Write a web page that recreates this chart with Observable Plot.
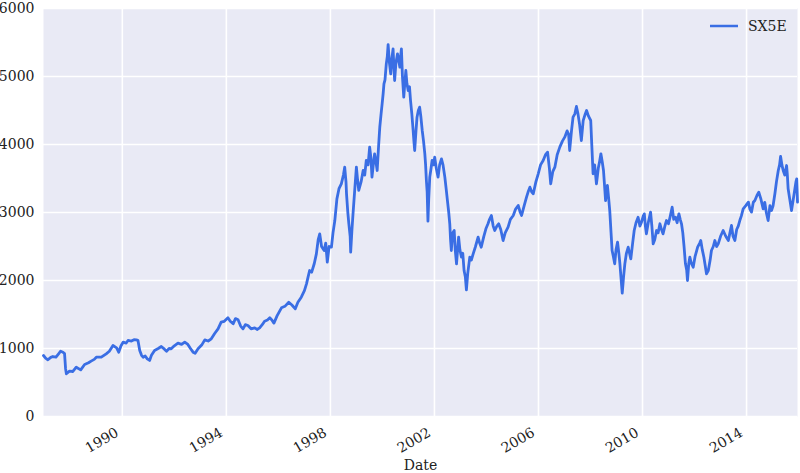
<!DOCTYPE html>
<html><head><meta charset="utf-8">
<script src="https://cdn.jsdelivr.net/npm/d3@7"></script>
<script src="https://cdn.jsdelivr.net/npm/@observablehq/plot@0.6"></script>
<style>
body{margin:0;background:#fff;}
#chart{position:relative;width:800px;height:473px;}
</style></head><body><div id="chart"></div>
<script>
const seriesName = "SX5E";
const xLabel = "Date";
const years = [
1986.97,1987.05,1987.14,1987.25,1987.33,1987.45,1987.55,1987.63,1987.72,1987.78,1987.82,1987.85,1987.97,
1988.10,1988.23,1988.40,1988.55,1988.70,1988.80,1988.92,1989.00,1989.19,1989.38,1989.50,1989.64,1989.78,1989.86,1989.95,
1990.03,1990.15,1990.22,1990.35,1990.45,1990.54,1990.60,1990.67,1990.74,1990.80,1990.88,1990.96,
1991.05,1991.12,1991.24,1991.38,1991.50,1991.62,1991.70,1991.80,1991.88,
1992.00,1992.14,1992.28,1992.40,1992.52,1992.62,1992.72,1992.80,1992.91,
1993.05,1993.17,1993.30,1993.42,1993.55,1993.68,1993.80,1993.92,
1994.06,1994.15,1994.26,1994.35,1994.45,1994.55,1994.64,1994.73,1994.83,1994.95,
1995.09,1995.18,1995.28,1995.38,1995.47,1995.58,1995.67,1995.75,1995.83,1995.95,
1996.05,1996.12,1996.25,1996.40,1996.52,1996.65,1996.75,1996.88,
1997.00,1997.08,1997.14,1997.20,1997.28,1997.38,1997.46,1997.53,1997.59,1997.66,1997.76,1997.82,1997.88,1997.95,
1998.04,1998.10,1998.17,1998.25,1998.33,1998.42,1998.50,1998.55,1998.60,1998.62,1998.67,1998.71,1998.76,1998.78,1998.83,1998.87,1998.93,
1999.00,1999.04,1999.09,1999.18,1999.26,1999.32,1999.38,1999.45,1999.51,1999.56,1999.60,1999.65,1999.70,1999.75,1999.80,1999.85,1999.90,1999.95,1999.99,
2000.03,2000.06,2000.10,2000.15,2000.19,2000.22,2000.27,2000.32,2000.36,2000.41,2000.44,2000.47,2000.52,2000.58,2000.62,2000.67,2000.70,2000.73,2000.77,2000.82,2000.86,2000.90,2000.94,2000.99,
2001.04,2001.08,2001.13,2001.18,2001.21,2001.24,2001.29,2001.33,2001.38,2001.43,2001.48,2001.53,2001.58,2001.63,2001.66,2001.69,2001.72,2001.75,2001.78,2001.82,2001.87,2001.91,2001.96,
2002.01,2002.07,2002.14,2002.20,2002.27,2002.33,2002.40,2002.45,2002.50,2002.55,2002.59,2002.62,2002.65,2002.70,2002.76,2002.80,2002.85,2002.89,2002.93,2002.98,
2003.04,2003.09,2003.14,2003.19,2003.23,2003.28,2003.36,2003.42,2003.49,2003.58,2003.68,2003.74,2003.80,2003.90,2003.98,
2004.06,2004.12,2004.19,2004.26,2004.32,2004.40,2004.47,2004.55,2004.64,2004.72,2004.83,2004.92,
2005.03,2005.12,2005.22,2005.30,2005.35,2005.45,2005.54,2005.60,2005.67,2005.74,2005.80,2005.90,2005.99,
2006.08,2006.18,2006.27,2006.35,2006.42,2006.47,2006.55,2006.63,2006.72,2006.82,2006.92,
2007.01,2007.10,2007.16,2007.20,2007.27,2007.33,2007.40,2007.46,2007.52,2007.58,2007.65,2007.72,2007.80,2007.85,2007.92,
2008.01,2008.05,2008.10,2008.16,2008.23,2008.30,2008.35,2008.40,2008.45,2008.50,2008.54,2008.58,2008.65,2008.70,2008.74,2008.79,2008.83,2008.88,2008.93,2008.98,
2009.04,2009.09,2009.13,2009.18,2009.22,2009.27,2009.32,2009.38,2009.45,2009.50,2009.55,2009.62,2009.68,2009.75,2009.83,2009.90,2009.96,
2010.03,2010.07,2010.11,2010.15,2010.22,2010.31,2010.36,2010.41,2010.47,2010.54,2010.60,2010.67,2010.73,2010.79,2010.86,2010.92,
2011.00,2011.07,2011.14,2011.20,2011.27,2011.33,2011.40,2011.45,2011.50,2011.55,2011.60,2011.65,2011.70,2011.73,2011.78,2011.82,2011.88,2011.95,
2012.02,2012.12,2012.20,2012.24,2012.30,2012.36,2012.40,2012.46,2012.53,2012.60,2012.65,2012.72,2012.78,2012.85,2012.91,
2013.00,2013.10,2013.20,2013.30,2013.36,2013.42,2013.48,2013.55,2013.62,2013.68,2013.74,2013.80,2013.87,2013.97,
2014.07,2014.13,2014.19,2014.26,2014.32,2014.40,2014.47,2014.55,2014.64,2014.70,2014.76,2014.83,2014.90,2014.96,
2015.02,2015.09,2015.15,2015.22,2015.27,2015.31,2015.36,2015.41,2015.47,2015.54,2015.57,2015.60,2015.66,2015.73,2015.80,2015.86,2015.90,2015.93,2015.96
];
const values = [
897,860,834,870,882,872,920,960,945,925,700,628,667,
662,725,686,765,790,814,840,872,872,922,960,1044,1010,946,1040,
1093,1080,1118,1110,1130,1127,1120,971,900,872,890,848,
824,900,971,1000,1029,990,960,1000,995,
1040,1078,1060,1093,1060,1000,946,930,995,
1050,1127,1110,1142,1220,1289,1387,1400,
1451,1400,1363,1440,1422,1330,1289,1350,1338,1290,
1304,1280,1304,1350,1402,1420,1451,1420,1373,1480,
1550,1598,1620,1681,1640,1583,1680,1755,
1850,1951,2050,2147,2122,2250,2392,2600,2686,2500,2441,2550,2269,2500,
2490,2700,2882,3200,3350,3422,3550,3667,3450,3275,3000,2834,2650,2416,2750,2980,3300,
3667,3500,3324,3450,3618,3550,3765,3700,3961,3800,3520,3700,3863,3750,3618,3950,4255,4450,4598,
4750,4892,4950,5186,5300,5470,5200,5039,5250,5407,5150,4941,5200,5333,5250,5137,5300,5407,5000,4696,4900,5088,4900,4794,
4850,4647,4450,4206,4050,3912,4200,4402,4500,4549,4400,4206,4050,3863,3700,3471,3300,2873,3200,3520,3650,3765,3700,
3814,3650,3520,3700,3789,3700,3520,3350,3176,3000,2834,2600,2441,2700,2735,2450,2245,2450,2637,2450,
2343,2400,2147,2050,1863,2100,2343,2300,2392,2500,2637,2550,2490,2650,2760,
2834,2900,2956,2800,2735,2800,2834,2750,2588,2700,2784,2900,
2956,3050,3103,3000,2956,3100,3225,3300,3373,3300,3275,3450,3569,
3700,3765,3850,3887,3650,3422,3600,3667,3850,3961,4050,
4108,4200,4150,3912,4200,4402,4450,4559,4450,4300,4059,4350,4450,4500,4420,
4353,4000,3569,3700,3422,3650,3750,3863,3750,3618,3400,3176,3397,3200,3029,2700,2441,2350,2245,2450,
2564,2400,2245,2000,1814,2050,2245,2400,2490,2400,2319,2550,2735,2850,2931,2800,2858,
2950,2980,2800,2686,2850,3005,2800,2539,2600,2735,2700,2834,2750,2686,2800,2882,
2834,2950,3078,2900,2931,2850,2980,2900,2834,2700,2490,2250,2150,2000,2250,2343,2250,2196,
2350,2490,2550,2588,2450,2343,2245,2098,2147,2300,2441,2500,2588,2500,2539,
2650,2735,2650,2588,2700,2809,2650,2588,2750,2800,2882,2950,3054,3100,
3152,3050,3005,3150,3176,3250,3299,3200,3054,3150,3000,2882,3100,3029,
3100,3275,3450,3618,3700,3824,3700,3618,3550,3691,3550,3348,3200,3029,3200,3348,3450,3495,3152
];
const xTickYears = [1990,1994,1998,2002,2006,2010,2014];
const yTicks = [0,1000,2000,3000,4000,5000,6000];

const toDate = y => {
  const yr = Math.floor(y);
  const a = Date.UTC(yr,0,1), b = Date.UTC(yr+1,0,1);
  return new Date(a + (y-yr)*(b-a));
};
const data = years.map((y,i)=>({date: toDate(y), value: values[i]}));
const xTicks = xTickYears.map(y => new Date(Date.UTC(y,0,1)));

const font = "DejaVu Serif";
const lineColor = "#3A6EE4";
const ink = "#222222";
const fs = 14;

const legend = (index, scales, vals, dims) => {
  const g = d3.create("svg:g");
  const x0 = dims.width - dims.marginRight - 87, y0 = dims.marginTop + 18;
  g.append("line").attr("x1", x0).attr("x2", x0 + 28).attr("y1", y0).attr("y2", y0)
    .attr("stroke", lineColor).attr("stroke-width", 2.5);
  g.append("text").attr("x", x0 + 38).attr("y", y0).attr("dy", "0.35em")
    .attr("text-anchor", "start")
    .attr("font-family", font).attr("font-size", fs).attr("fill", ink).text(seriesName);
  return g.node();
};

const chart = Plot.plot({
  width: 800, height: 473,
  marginLeft: 43, marginRight: 3, marginTop: 8, marginBottom: 57,
  style: {fontFamily: font, fontSize: fs + "px", color: ink, background: "white"},
  x: {type: "utc", domain: [data[0].date, data[data.length-1].date]},
  y: {domain: [0, 6000]},
  marks: [
    Plot.frame({fill: "#E9EAF5", stroke: "none"}),
    Plot.gridX(xTicks, {stroke: "white", strokeOpacity: 1, strokeWidth: 1.6}),
    Plot.gridY(yTicks, {stroke: "white", strokeOpacity: 1, strokeWidth: 1.6}),
    Plot.axisY(yTicks, {tickSize: 0, tickPadding: 9, label: null, fontSize: fs, tickFormat: d => String(d)}),
    Plot.axisX(xTicks, {tickSize: 0, tickPadding: 10, tickRotate: -30, tickFormat: "%Y", label: null, fontSize: fs, dx: -5, dy: 5}),
    Plot.text([xLabel], {text: d => d, frameAnchor: "bottom", dy: 53, fontSize: fs}),
    Plot.line(data, {x: "date", y: "value", stroke: lineColor, strokeWidth: 2.8}),
    legend
  ]
});
document.getElementById("chart").appendChild(chart);
</script></body></html>
